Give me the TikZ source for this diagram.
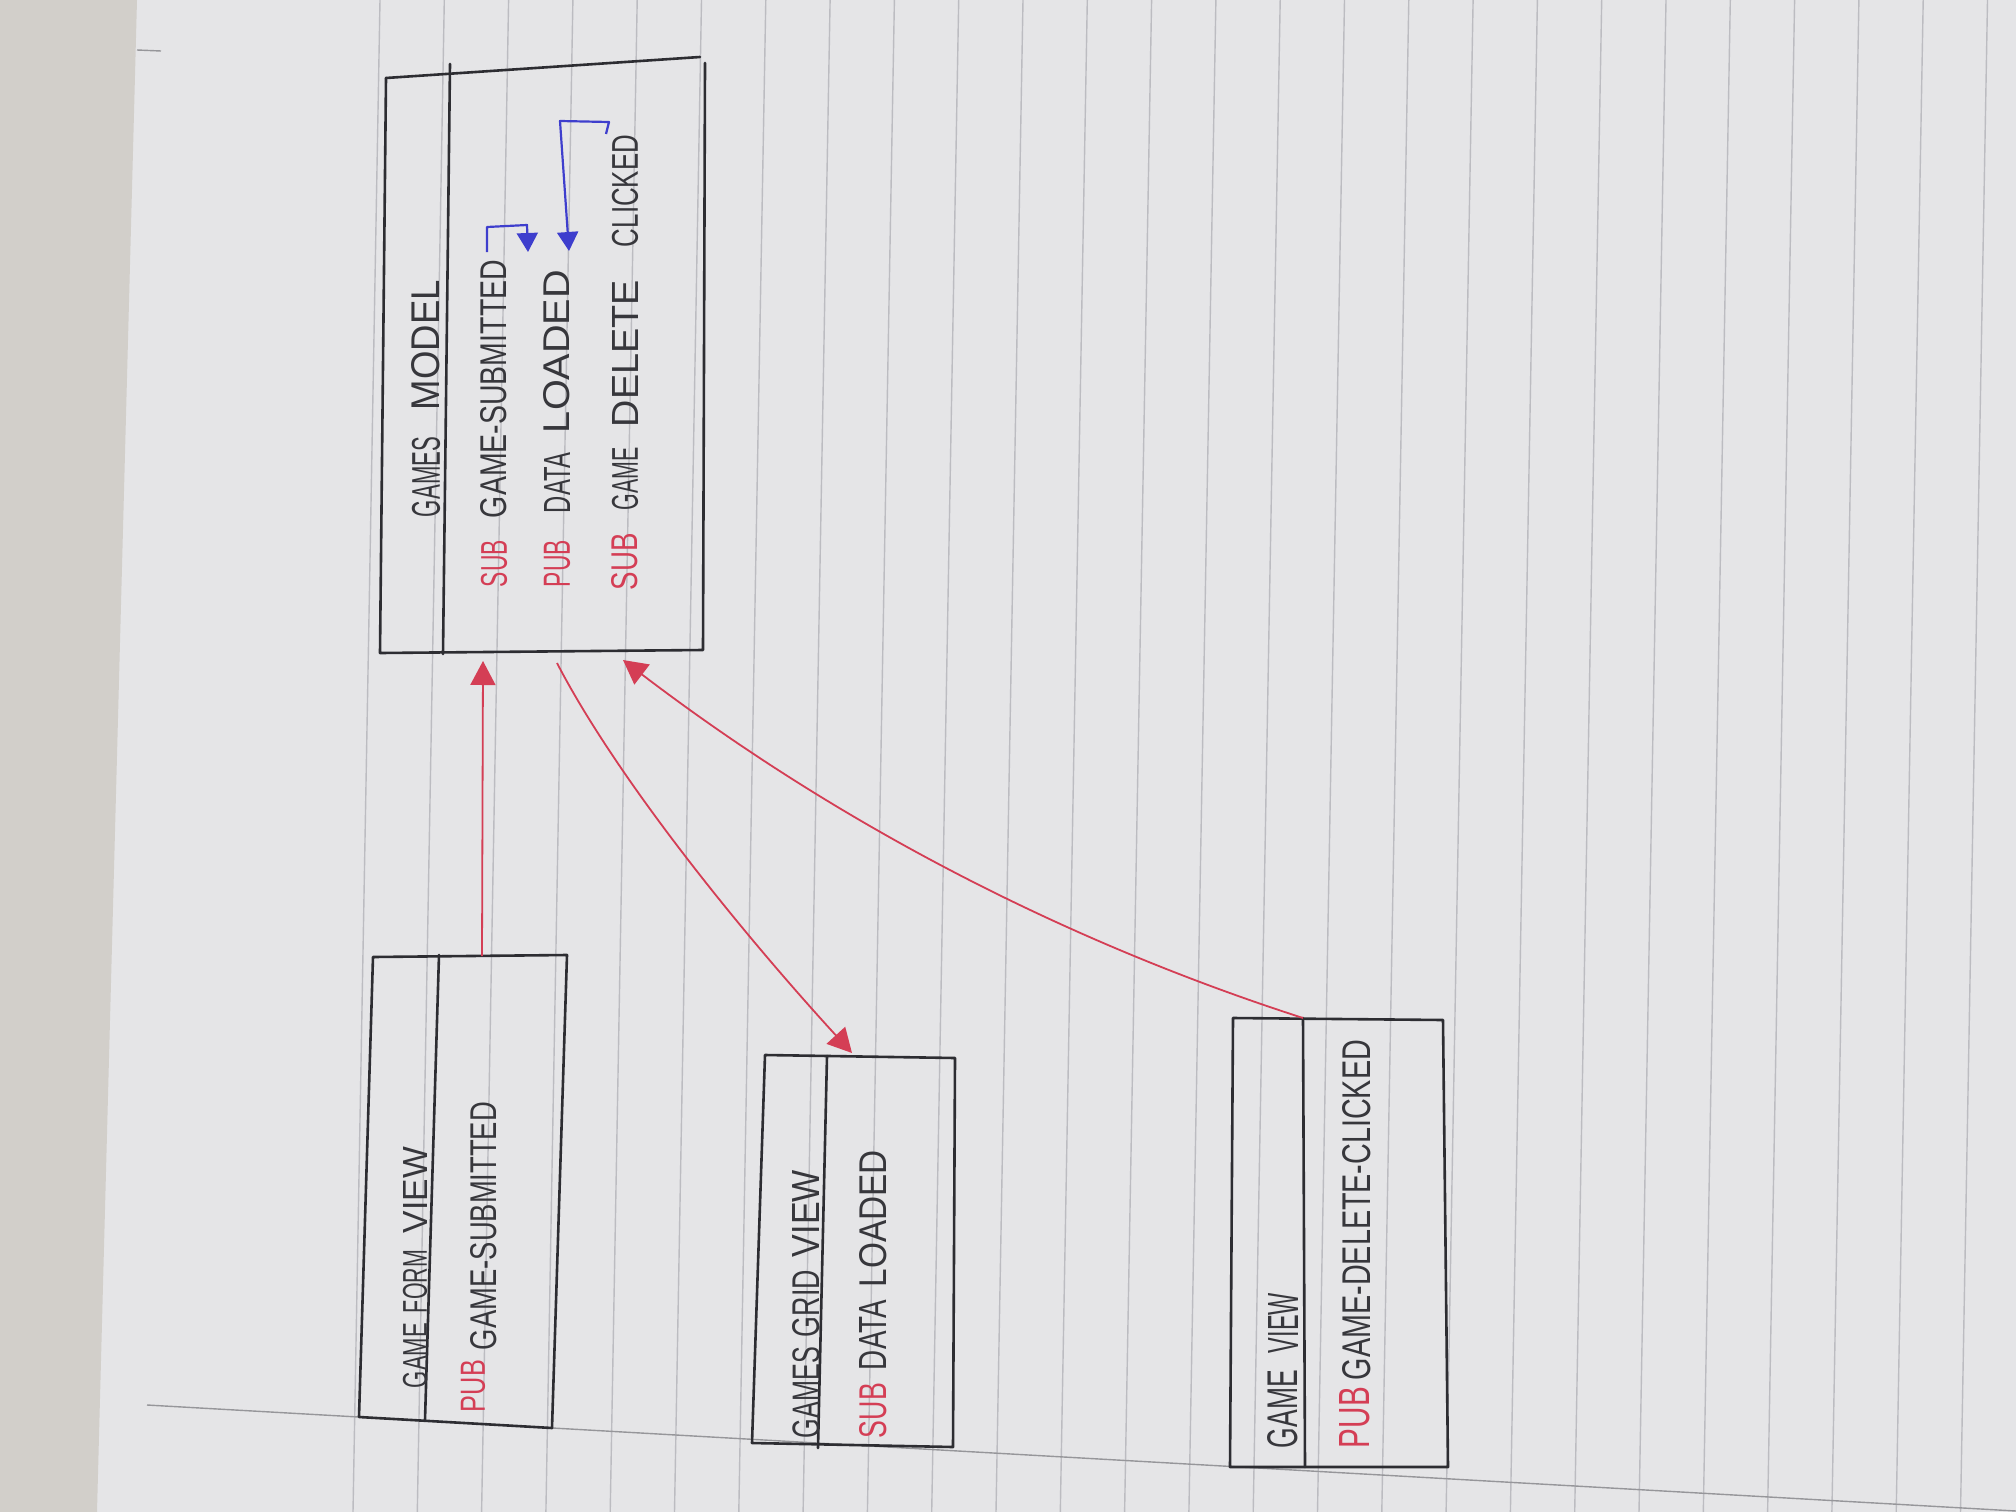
\documentclass[tikz,border=0pt]{standalone}
\usepackage{fontspec}
\setmainfont{Liberation Sans}
\usetikzlibrary{arrows.meta,calc}
\definecolor{pen}{RGB}{45,45,50}
\definecolor{ink}{RGB}{55,55,60}
\definecolor{penred}{RGB}{212,62,85}
\definecolor{penblue}{RGB}{62,62,205}
\definecolor{paper}{RGB}{229,229,231}
\definecolor{tablecol}{RGB}{210,207,202}
\definecolor{rulecol}{RGB}{188,188,193}
\tikzset{
  hwtext/.style={rotate=90,inner sep=0pt,outer sep=0pt,anchor=center},
  boxline/.style={draw=pen,line width=2.6pt,line join=round,line cap=round},
  rulestyle/.style={draw=rulecol,line width=1.4pt},
  redarrow/.style={draw=penred,line width=1.8pt,-{Triangle[length=24pt,width=25pt]}},
  bluearrow/.style={draw=penblue,line width=2.2pt,line join=round,-{Triangle[length=19pt,width=21pt]}}
}
\newcommand\hwt[7]{\node[hwtext,text=#6] (#1) at (#2,#3) {\resizebox{#4pt}{#5pt}{#7}};}
\begin{document}
\begin{tikzpicture}[x=1pt,y=-1pt]
\useasboundingbox (0,0) rectangle (2016,1512);
% paper and table
\fill[paper] (0,0) rectangle (2016,1512);
\fill[tablecol] (0,0) -- (137,0) -- (97,1512) -- (0,1512) -- cycle;
% ruled lines
\foreach \i in {0,...,25}{
  \draw[rulestyle] ({380+64.3*\i},0) -- ({353+64.3*\i},1512);
}
\draw[draw=rulecol!80!black,line width=1.4pt] (147,1405) -- (2016,1511);
\draw[draw=rulecol!80!black,line width=1.4pt] (137,50) -- (161,51);

% ---------- Games Model ----------
\coordinate (gm-tl) at (386,78);
\coordinate (gm-tr) at (700,57);
\coordinate (gm-tr2) at (705,63);
\coordinate (gm-br) at (703,650);
\coordinate (gm-bl) at (380,653);
\coordinate (gm-dt) at (450,64);
\coordinate (gm-db) at (443,654);
\draw[boxline] (gm-tl) -- (gm-tr);
\draw[boxline] (gm-tr2) -- (gm-br) -- (gm-bl) -- (gm-tl);
\draw[boxline] (gm-dt) -- (gm-db);

\hwt{gm-games}{426}{477}{80}{28}{ink}{GAMES}
\hwt{gm-model}{426}{345}{130}{28}{ink}{MODEL}
\hwt{gm-s1}{494}{563.5}{47}{26}{penred}{SUB}
\hwt{gm-e1}{494}{389}{258}{26}{ink}{GAME-SUBMITTED}
\hwt{gm-p2}{557}{563.5}{47}{26}{penred}{PUB}
\hwt{gm-e2a}{557}{483}{60}{26}{ink}{DATA}
\hwt{gm-e2b}{557}{351.5}{163}{26}{ink}{LOADED}
\hwt{gm-s3}{625}{561.5}{57}{26}{penred}{SUB}
\hwt{gm-e3a}{625}{478.5}{63}{26}{ink}{GAME}
\hwt{gm-e3b}{625}{353.5}{147}{26}{ink}{DELETE}
\hwt{gm-e3c}{625}{191}{112}{26}{ink}{CLICKED}

% blue internal arrows
\coordinate (b1-s) at (487,252);
\coordinate (b1-a) at (487,227);
\coordinate (b1-b) at (527,225);
\coordinate (b1-t) at (528,252);
\draw[bluearrow] (b1-s) -- (b1-a) -- (b1-b) -- (b1-t);
\coordinate (b2-s) at (606,134);
\coordinate (b2-a) at (609,122);
\coordinate (b2-b) at (560,121);
\coordinate (b2-t) at (569,251);
\draw[bluearrow] (b2-s) -- (b2-a) -- (b2-b) -- (b2-t);

% ---------- Game Form View ----------
\coordinate (fv-tl) at (373,957);
\coordinate (fv-tr) at (567,955);
\coordinate (fv-br) at (552,1428);
\coordinate (fv-bl) at (359,1417);
\coordinate (fv-dt) at (439,955);
\coordinate (fv-db) at (425,1420);
\draw[boxline] (fv-tl) -- (fv-tr) -- (fv-br) -- (fv-bl) -- cycle;
\draw[boxline] (fv-dt) -- (fv-db);
\hwt{fv-t1}{415}{1355.5}{65}{24}{ink}{GAME}
\hwt{fv-t2}{415}{1281.5}{63}{24}{ink}{FORM}
\hwt{fv-t3}{415}{1190}{86}{24}{ink}{VIEW}
\hwt{fv-p}{473}{1386}{52}{24}{penred}{PUB}
\hwt{fv-e}{484}{1226}{248}{26}{ink}{GAME-SUBMITTED}

% ---------- Games Grid View ----------
\coordinate (gv-tl) at (765,1055);
\coordinate (gv-tr) at (955,1058);
\coordinate (gv-br) at (953,1447);
\coordinate (gv-bl) at (752,1443);
\coordinate (gv-dt) at (827,1056);
\coordinate (gv-db) at (818,1448);
\draw[boxline] (gv-tl) -- (gv-tr) -- (gv-br) -- (gv-bl) -- cycle;
\draw[boxline] (gv-dt) -- (gv-db);
\hwt{gv-t1}{806}{1392.5}{91}{27}{ink}{GAMES}
\hwt{gv-t2}{806}{1303.5}{67}{27}{ink}{GRID}
\hwt{gv-t3}{806}{1213.5}{87}{27}{ink}{VIEW}
\hwt{gv-s}{873}{1410.5}{55}{27}{penred}{SUB}
\hwt{gv-e1}{873}{1335}{70}{27}{ink}{DATA}
\hwt{gv-e2}{873}{1218.5}{137}{27}{ink}{LOADED}

% ---------- Game View ----------
\coordinate (v-tl) at (1233,1018);
\coordinate (v-tr) at (1443,1020);
\coordinate (v-br) at (1448,1467);
\coordinate (v-bl) at (1230,1467);
\coordinate (v-dt) at (1303,1018);
\coordinate (v-db) at (1305,1467);
\draw[boxline] (v-tl) -- (v-tr) -- (v-br) -- (v-bl) -- cycle;
\draw[boxline] (v-dt) -- (v-db);
\hwt{v-t1}{1283}{1409}{78}{30}{ink}{GAME}
\hwt{v-t2}{1283}{1323}{60}{30}{ink}{VIEW}
\hwt{v-p}{1355}{1417.5}{61}{30}{penred}{PUB}
\hwt{v-e}{1357}{1210}{340}{28}{ink}{GAME-DELETE-CLICKED}

% ---------- red connectors ----------
\coordinate (fv-out) at (482,956);
\coordinate (gm-in1) at (483,661);
\coordinate (gm-out2) at (557,663);
\coordinate (gv-in) at (852,1053);
\coordinate (v-out) at (1303,1018);
\coordinate (gm-in3) at (623,660);
\draw[redarrow] (fv-out) -- (gm-in1);
\draw[redarrow] (gm-out2) .. controls (615,775) and (735,925) .. (gv-in);
\draw[redarrow] (v-out) .. controls (1055,938) and (830,818) .. (gm-in3);
\end{tikzpicture}
\end{document}
